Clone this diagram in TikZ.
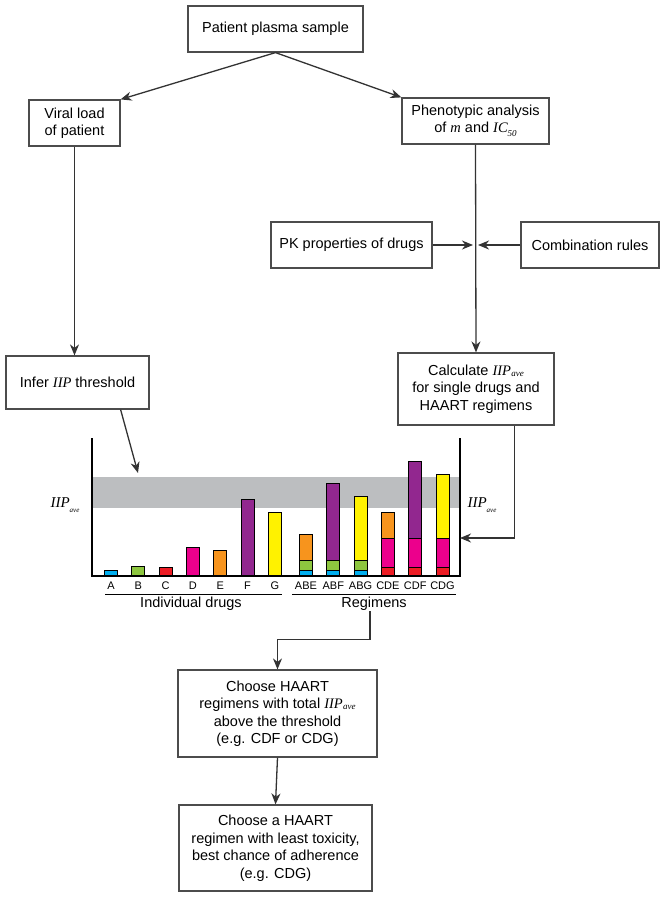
\documentclass[tikz,border=0pt]{standalone}
\usepackage{fontspec}
\setmainfont{Liberation Sans}
\newfontfamily\timesfont{Liberation Serif}
\usetikzlibrary{arrows.meta}
\newcommand{\tit}[1]{{\timesfont\itshape #1}}
\newcommand{\iipave}{\tit{IIP\kern0.3pt\raisebox{-0.2ex}{\small ave}}}
\newcommand{\iipsub}{\tit{IIP\raisebox{-0.7ex}{\scriptsize ave}}}
\newcommand{\icfifty}{\tit{IC\raisebox{-0.6ex}{\small 50}}}
\definecolor{drugA}{HTML}{00AEEF}
\definecolor{drugB}{HTML}{8DC63F}
\definecolor{drugC}{HTML}{ED1C24}
\definecolor{drugD}{HTML}{EC008C}
\definecolor{drugE}{HTML}{F7941D}
\definecolor{drugF}{HTML}{92278F}
\definecolor{drugG}{HTML}{FFF200}
\definecolor{bandgray}{HTML}{BCBEC0}
\tikzset{
  box/.style={draw=black!70, line width=1.2pt, align=center, inner sep=2pt,
    font=\fontsize{14.5}{17.5}\selectfont},
  link/.style={draw=black!80, line width=1.3pt, -{Stealth[length=11pt,width=9pt,inset=3.5pt]}},
  bar/.style={draw=black, line width=0.9pt},
  tick/.style={font=\fontsize{11}{12}\selectfont, inner sep=1pt},
  grp/.style={font=\fontsize{14.5}{17}\selectfont, inner sep=1pt},
}
\begin{document}
\begin{tikzpicture}[x=1pt, y=-1pt]
    \useasboundingbox (0,0) rectangle (665,897);
    \node[box, minimum width=175pt, minimum height=46pt] (plasma) at (275.5,29) {Patient plasma sample};
    \node[box, minimum width=91pt, minimum height=46pt] (viral) at (74.5,123) {Viral load\\of patient};
    \node[box, minimum width=147pt, minimum height=46pt] (pheno) at (475.5,121) {Phenotypic analysis\\of \tit{m} and \icfifty};
    \node[box, minimum width=161pt, minimum height=46pt] (pk) at (351.5,245) {PK properties of drugs};
    \node[box, minimum width=138pt, minimum height=46pt] (comb) at (590,245) {Combination rules};
    \node[box, minimum width=143pt, minimum height=53pt] (infer) at (77.5,382.5) {Infer \tit{IIP} threshold};
    \node[box, minimum width=156pt, minimum height=72pt] (calc) at (476,389) {Calculate \iipave\\for single drugs and\\HAART regimens};
    \node[box, minimum width=199pt, minimum height=87pt] (pick) at (277.5,713.5) {Choose HAART\\regimens with total \iipave\\above the threshold\\(e.g. CDF or CDG)};
    \node[box, minimum width=193pt, minimum height=86pt] (best) at (275.5,848) {Choose a HAART\\regimen with least toxicity,\\best chance of adherence\\(e.g. CDG)};

    % chart
    \fill[bandgray] (92,477) rectangle (460,508);
    \foreach \x/\lo/\hi/\c in {104.5/576/570/drugA, 131.8/576/566/drugB, 159.1/576/567/drugC,
        186.4/576/547/drugD, 213.7/576/550/drugE, 241/576/499/drugF, 268.3/576/512/drugG,
        299.5/576/570/drugA, 299.5/570/560/drugB, 299.5/560/534/drugE,
        326.8/576/570/drugA, 326.8/570/560/drugB, 326.8/560/483/drugF,
        354.1/576/570/drugA, 354.1/570/560/drugB, 354.1/560/496/drugG,
        381.4/576/567/drugC, 381.4/567/538/drugD, 381.4/538/512/drugE,
        408.7/576/567/drugC, 408.7/567/538/drugD, 408.7/538/461/drugF,
        436/576/567/drugC, 436/567/538/drugD, 436/538/474/drugG}
        \draw[bar, fill=\c] (\x,\lo) rectangle (\x+13,\hi);
    \draw[black, line width=1.5pt] (92,438) -- (92,576) -- (460,576) -- (460,438);
    \foreach \x/\t in {104.5/A, 131.8/B, 159.1/C, 186.4/D, 213.7/E, 241/F, 268.3/G,
        299.5/ABE, 326.8/ABF, 354.1/ABG, 381.4/CDE, 408.7/CDF, 436/CDG}
        \node[tick] (lab\t) at (\x+6.5,585.5) {\t};
    \draw[black, line width=0.9pt] (105,594) -- (282,594);
    \draw[black, line width=0.9pt] (292,594) -- (456,594);
    \node[grp] (single) at (191,603.5) {Individual drugs};
    \node[grp] (regs) at (374,603.5) {Regimens};
    \node[font=\fontsize{15}{17}\selectfont] (iipL) at (65,505) {\iipsub};
    \node[font=\fontsize{15}{17}\selectfont] (iipR) at (482,505) {\iipsub};
    \coordinate (thr) at (138,473);
    \coordinate (axR) at (460,538);
    \coordinate (junc) at (pheno.south |- pk.east);

    % connectors
    \draw[link] (plasma.south) -- (viral.north east);
    \draw[link] (plasma.south) -- (pheno.north west);
    \draw[link] (viral.south) -- (viral.south |- infer.north);
    \draw[link] (pheno.south) -- (calc.north);
    \draw[link, shorten >=2.5pt] (pk.east) -- (junc);
    \draw[link, shorten >=2.5pt] (comb.west) -- (junc);
    \draw[link] ([xshift=-29pt]infer.south east) -- (thr);
    \draw[link] ([xshift=-40pt]calc.south east) |- (axR);
    \draw[link] ([xshift=-4pt]regs.south) -- ++(0,28) -| (pick.north);
    \draw[link] (pick.south) -- (best.north);
\end{tikzpicture}
\end{document}
